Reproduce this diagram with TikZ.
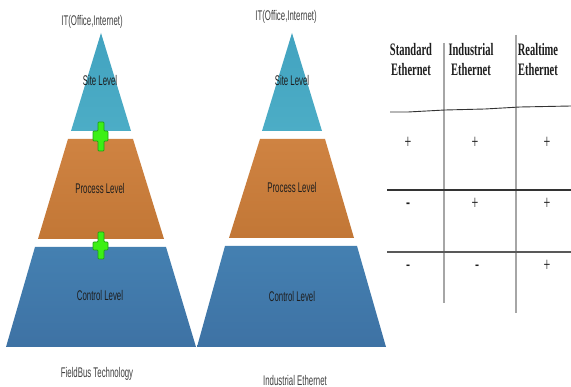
\documentclass[tikz,border=0pt]{standalone}
\usepackage{fontspec}
\usepackage{graphicx}
\setmainfont{Liberation Serif}
\newfontfamily\lblfont{Liberation Sans}
\newfontfamily\hdrfont{Liberation Serif}
\definecolor{tealA}{RGB}{66,163,192}
\definecolor{tealB}{RGB}{76,173,198}
\definecolor{orngA}{RGB}{207,131,66}
\definecolor{orngB}{RGB}{194,119,54}
\definecolor{blueA}{RGB}{68,128,177}
\definecolor{blueB}{RGB}{62,114,164}
\definecolor{crossG}{RGB}{60,240,20}
\definecolor{crossD}{RGB}{30,160,20}
\definecolor{txt}{RGB}{30,30,30}
\newcommand{\sqz}[2][0.56]{\scalebox{#1}[1]{#2}}
\tikzset{
  lvl/.style={font=\lblfont\fontsize{14}{15}\selectfont, text=txt, inner sep=0pt},
  captxt/.style={font=\lblfont\fontsize{14}{15}\selectfont, text=txt!85, inner sep=0pt},
  hdr/.style={font=\hdrfont\bfseries\fontsize{17.5}{20}\selectfont, text=txt, align=center, inner sep=0pt},
  cell/.style={font=\hdrfont\fontsize{20}{20}\selectfont, text=txt, inner sep=0pt},
  gline/.style={line width=1.2pt, draw=black!35},
  hline/.style={line width=1.1pt, draw=black!80},
  greencross/.style={fill=crossG, draw=crossD, line width=0.7pt, rounded corners=0.8pt}
}
\begin{document}
\begin{tikzpicture}[x=1pt, y=-1pt]
\useasboundingbox (0,0) rectangle (571,387);
\fill[white] (0,0) rectangle (571,387);

% ---------- left pyramid ----------
\shade[top color=tealA, bottom color=tealB] (101,33) -- (131,131) -- (71,131) -- cycle;
\shade[top color=orngA, bottom color=orngB] (68,139) -- (133,139) -- (164,239) -- (38,239) -- cycle;
\shade[top color=blueA, bottom color=blueB] (35,247) -- (166,247) -- (196,347) -- (6,347) -- cycle;

% green crosses
\path[greencross] (98,122) -- (104,122) -- (104,131) -- (108,131) -- (108,141) -- (104,141) -- (104,151) -- (98,151) -- (98,141) -- (93,141) -- (93,131) -- (98,131) -- cycle;
\path[greencross] (98,232) -- (104,232) -- (104,242) -- (108,242) -- (108,250) -- (104,250) -- (104,259) -- (98,259) -- (98,250) -- (93,250) -- (93,242) -- (98,242) -- cycle;

\node[captxt] (itL) at (92,22) {\sqz{IT(Office,Internet)}};
\node[lvl] (siteL) at (100,80) {\sqz{Site Level}};
\node[lvl] (procL) at (100,188) {\sqz{Process Level}};
\node[lvl] (ctrlL) at (100,295) {\sqz{Control Level}};
\node[captxt] (fbL) at (97,374) {\sqz{FieldBus Technology}};

% ---------- right pyramid ----------
\shade[top color=tealA, bottom color=tealB] (292,33) -- (322,131) -- (262,131) -- cycle;
\shade[top color=orngA, bottom color=orngB] (260,139) -- (325,139) -- (354,238) -- (229,238) -- cycle;
\shade[top color=blueA, bottom color=blueB] (225,246) -- (357,246) -- (386,347) -- (197,347) -- cycle;

\node[captxt] (itR) at (286,17) {\sqz{IT(Office,Internet)}};
\node[lvl] (siteR) at (292,80) {\sqz{Site Level}};
\node[lvl] (procR) at (292,187) {\sqz{Process Level}};
\node[lvl] (ctrlR) at (292,296) {\sqz{Control Level}};
\node[captxt] (ieR) at (295,380) {\sqz{Industrial Ethernet}};

% ---------- table ----------
\node[hdr] (h1) at (411,60) {\sqz[0.6]{Standard}\\\sqz[0.6]{Ethernet}};
\node[hdr] (h2) at (471,60) {\sqz[0.6]{Industrial}\\\sqz[0.6]{Ethernet}};
\node[hdr] (h3) at (538,60) {\sqz[0.6]{Realtime}\\\sqz[0.6]{Ethernet}};

\draw[gline] (444,43) -- (444,303);
\draw[gline] (516,35) -- (516,313);
\draw[hline, line width=0.9pt] (390,112) -- (408,112) -- (445,110) -- (485,109) -- (520,107) -- (571,106);
\draw[hline] (387,190) -- (571,190);
\draw[hline, draw=black!65] (387,252) -- (571,252);

\node[cell] (c11) at (408,143) {\sqz[0.6]{+}};
\node[cell] (c12) at (475,143) {\sqz[0.6]{+}};
\node[cell] (c13) at (547,143) {\sqz[0.6]{+}};
\node[cell] (c21) at (408,206) {\sqz[0.6]{\textbf{-}}};
\node[cell] (c22) at (475,204) {\sqz[0.6]{+}};
\node[cell] (c23) at (547,204) {\sqz[0.6]{+}};
\node[cell] (c31) at (408,268) {\sqz[0.6]{-}};
\node[cell] (c32) at (477,268) {\sqz[0.6]{-}};
\node[cell] (c33) at (547,266) {\sqz[0.6]{+}};
\end{tikzpicture}
\end{document}
